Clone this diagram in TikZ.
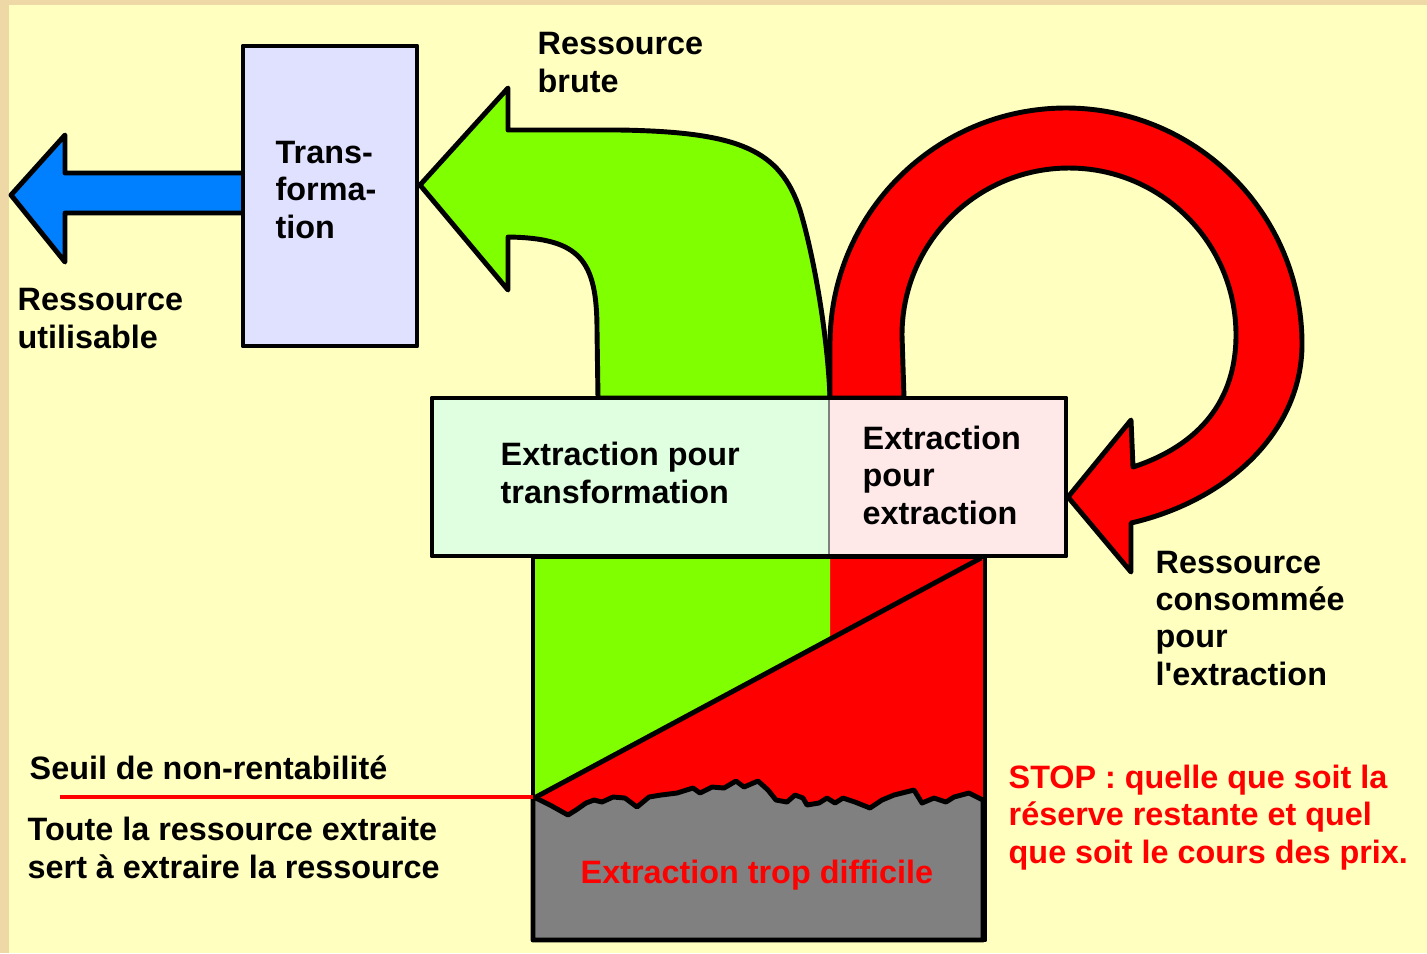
\documentclass[tikz,border=0pt]{standalone}
\usepackage{fontspec}
\setmainfont{Liberation Sans}[Ligatures=TeXOff]
\definecolor{fond}{HTML}{FFFFC0}
\definecolor{bord}{HTML}{EED9A6}
\definecolor{vert}{HTML}{80FF00}
\definecolor{rouge}{HTML}{FF0000}
\definecolor{bleu}{HTML}{0080FF}
\definecolor{lavande}{HTML}{E0E0FF}
\definecolor{menthe}{HTML}{E0FFE0}
\definecolor{rose}{HTML}{FFE8E8}
\definecolor{gris}{HTML}{808080}

\tikzset{
  contour/.style={line width=1.4pt, draw=black, line join=round},
  etiquette/.style={anchor=base west, align=left, inner sep=0pt,
    font=\bfseries\fontsize{9.2}{10.6}\selectfont},
}

\begin{document}
\begin{tikzpicture}[x=0.01cm, y=-0.01cm]
  \useasboundingbox (0,0) rectangle (1427,953);
  \fill[bord] (0,0) rectangle (1427,953);
  \fill[fond] (9,5) rectangle (1427,953);

  % fleche verte (ressource brute)
  \filldraw[contour, fill=vert] (598,398) -- (597,330) .. controls (597,260) and (580,238) .. (508,237)
    -- (508,290) -- (420,185) -- (508,88) -- (508,130) -- (620,130)
    .. controls (740,132) and (780,150) .. (800,210)
    .. controls (815,260) and (828,340) .. (830,398) -- cycle;

  % boucle rouge
  \filldraw[contour, fill=rouge] (830,398) -- (830,344) arc[start angle=180, end angle=360, radius=236]
    .. controls (1302,430) and (1230,500) .. (1131,523)
    -- (1131,572) -- (1068,497) -- (1131,420) -- (1133,467)
    .. controls (1200,445) and (1236,400) .. (1236,335)
    arc[start angle=0, end angle=-180, radius=167] -- (904,398) -- cycle;

  % gisement
  \fill[rouge] (533,557) rectangle (985,940);
  \fill[vert] (533,557) -- (830,557) -- (830,639) -- (536,797) -- (533,797) -- cycle;
  \filldraw[contour, fill=gris] (536,798) -- (550,805) -- (568,815) -- (576,810) -- (586,803)
    -- (594,800) -- (602,802) -- (613,797) -- (625,798) -- (637,807) -- (649,797)
    -- (661,795) -- (677,793) -- (693,788) -- (700,793) -- (712,787) -- (724,788)
    -- (736,781) -- (744,787) -- (758,781) -- (768,790) -- (776,800) -- (787,802)
    -- (795,795) -- (803,798) -- (807,805) -- (819,803) -- (827,798) -- (835,803)
    -- (843,798) -- (855,802) -- (870,808) -- (882,800) -- (894,795) -- (906,792)
    -- (914,790) -- (922,803) -- (934,798) -- (946,802) -- (954,797) -- (969,793)
    -- (983,800) -- (983,940) -- (533,940) -- (533,798) -- cycle;
  \draw[contour] (536,797) -- (981,558);
  \draw[contour] (533,557) rectangle (985,940);

  % boite d'extraction
  \fill[menthe] (432,398) rectangle (829,556);
  \fill[rose] (829,398) rectangle (1066,556);
  \draw[gris, line width=0.4pt] (829,398) -- (829,556);
  \draw[contour] (432,398) rectangle (1066,556);

  % transformation
  \filldraw[contour, fill=bleu] (243,173) -- (65,173) -- (65,135) -- (11,195) -- (65,262) -- (65,213) -- (243,213);
  \filldraw[contour, fill=lavande] (243,46) rectangle (417,346);

  % seuil
  \coordinate (seuilG) at (60,797);
  \coordinate (seuilD) at (533,797);
  \draw[rouge, line width=0.9pt] (seuilG) -- (seuilD);

  % textes (ancre sur la derniere ligne)
  \node[etiquette] (brute) at (537,92) {Ressource\\brute};
  \node[etiquette] (transfo) at (275,238) {Trans-\\forma-\\tion};
  \node[etiquette] (utile) at (17,348) {Ressource\\utilisable};
  \node[etiquette] (pourTransfo) at (500,503) {Extraction pour\\transformation};
  \node[etiquette] (pourExtr) at (862,524) {Extraction\\pour\\extraction};
  \node[etiquette] (consommee) at (1155,685) {Ressource\\consommée\\pour\\l'extraction};
  \node[etiquette] (seuil) at (29,779) {Seuil de non-rentabilité};
  \node[etiquette] (toute) at (27,878) {Toute la ressource extraite\\sert à extraire la ressource};
  \node[etiquette, text=rouge] (stop) at (1008,863) {STOP : quelle que soit la\\réserve restante et quel\\que soit le cours des prix.};
  \node[etiquette, text=rouge] (difficile) at (580,883) {Extraction trop difficile};
\end{tikzpicture}
\end{document}
